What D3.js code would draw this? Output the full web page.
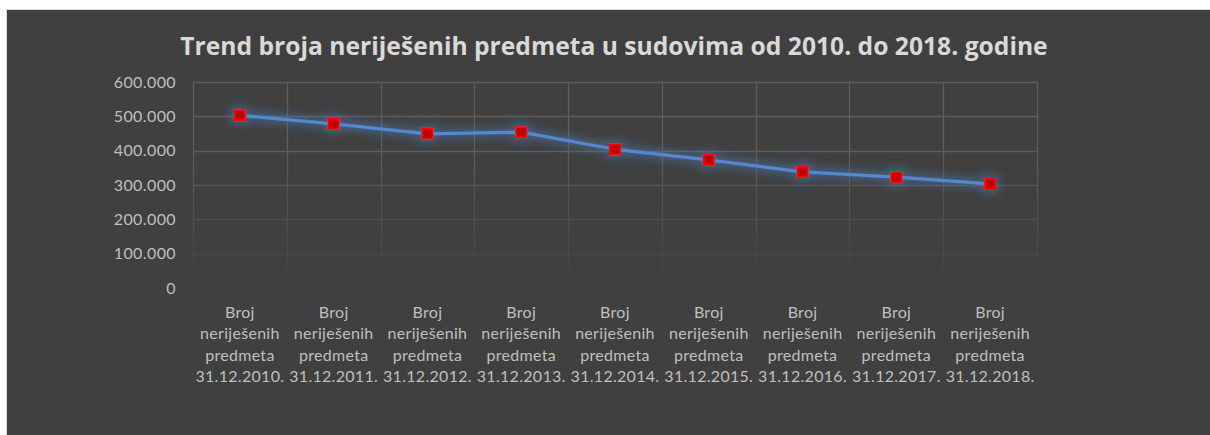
<!DOCTYPE html>
<html>
<head>
<meta charset="utf-8">
<script src="https://cdn.jsdelivr.net/npm/d3@7"></script>
<style>
  body { margin: 0; background: #ffffff; }
  svg { display: block; }
</style>
</head>
<body>
<svg id="chart" width="1210" height="435"></svg>
<script>
// Chart data
const categories = ['2010', '2011', '2012', '2013', '2014', '2015', '2016', '2017', '2018'];
const categoryLabels = categories.map(y => ['Broj', 'neriješenih', 'predmeta', `31.12.${y}.`]);
const values = [503000, 478000, 449000, 454000, 404000, 373000, 338000, 323000, 303000];
const yTicks = [0, 100000, 200000, 300000, 400000, 500000, 600000];
const titleText = 'Trend broja neriješenih predmeta u sudovima od 2010. do 2018. godine';

const W = 1210, H = 435;
const margin = { top: 82, left: 193, right: 173, bottom: 147 };
const plotW = W - margin.left - margin.right;
const plotH = H - margin.top - margin.bottom;

const svg = d3.select('#chart');
const defs = svg.append('defs');

// Blue glow around line and markers
const glow = defs.append('filter')
  .attr('id', 'glow')
  .attr('x', '-20%').attr('y', '-50%')
  .attr('width', '140%').attr('height', '200%');
glow.append('feMorphology')
  .attr('in', 'SourceAlpha').attr('operator', 'dilate').attr('radius', 2.5)
  .attr('result', 'thick');
glow.append('feGaussianBlur')
  .attr('in', 'thick').attr('stdDeviation', 4.5).attr('result', 'blur');
glow.append('feFlood').attr('flood-color', '#4a7ebb').attr('flood-opacity', 0.5);
glow.append('feComposite').attr('in2', 'blur').attr('operator', 'in').attr('result', 'glowColor');
const merge = glow.append('feMerge');
merge.append('feMergeNode').attr('in', 'glowColor');
merge.append('feMergeNode').attr('in', 'SourceGraphic');

// Gridlines fade out towards the bottom
const fade = defs.append('linearGradient')
  .attr('id', 'fadeGrad')
  .attr('gradientUnits', 'userSpaceOnUse')
  .attr('x1', 0).attr('y1', margin.top).attr('x2', 0).attr('y2', margin.top + plotH + 4);
fade.append('stop').attr('offset', '0.3').attr('stop-color', '#fff').attr('stop-opacity', 1);
fade.append('stop').attr('offset', '1').attr('stop-color', '#fff').attr('stop-opacity', 0);
defs.append('mask')
  .attr('id', 'fadeMask')
  .attr('maskUnits', 'userSpaceOnUse')
  .attr('x', 0).attr('y', 0).attr('width', W).attr('height', H)
  .append('rect')
  .attr('x', 0).attr('y', 0).attr('width', W).attr('height', H)
  .attr('fill', 'url(#fadeGrad)');

// Chart background + outer border
svg.append('rect')
  .attr('x', 6.5).attr('y', 9.5)
  .attr('width', W).attr('height', H)
  .attr('fill', '#404040')
  .attr('stroke', '#d9d9d9')
  .attr('stroke-width', 1);

const x = d3.scaleBand()
  .domain(categories)
  .range([margin.left, margin.left + plotW]);

const y = d3.scaleLinear()
  .domain([0, 600000])
  .range([margin.top + plotH, margin.top]);

const fmt = v => d3.format(',')(v).replace(/,/g, '.');

// Grid
const grid = svg.append('g').attr('mask', 'url(#fadeMask)');
grid.selectAll('line.h')
  .data(yTicks.filter(d => d > 0))
  .join('line')
  .attr('class', 'h')
  .attr('x1', margin.left).attr('x2', margin.left + plotW)
  .attr('y1', d => Math.round(y(d)) + 0.5).attr('y2', d => Math.round(y(d)) + 0.5)
  .attr('stroke', '#5e5e5e').attr('stroke-width', 1.3);

const vLines = categories.map(c => x(c)).concat([margin.left + plotW]);
grid.selectAll('line.v')
  .data(vLines)
  .join('line')
  .attr('class', 'v')
  .attr('x1', d => Math.round(d) + 0.5).attr('x2', d => Math.round(d) + 0.5)
  .attr('y1', margin.top).attr('y2', margin.top + plotH + 20)
  .attr('stroke', '#5e5e5e').attr('stroke-width', 1.3);

// Y axis labels
const yAxis = svg.append('g')
  .attr('transform', `translate(${margin.left - 17},0)`)
  .call(d3.axisLeft(y).tickValues(yTicks).tickFormat(fmt).tickSize(0).tickPadding(0));
yAxis.select('.domain').remove();
yAxis.selectAll('text')
  .attr('fill', '#bfbfbf')
  .style('font-family', 'Lato, "Open Sans", sans-serif')
  .style('font-size', '16px')
  .style('letter-spacing', '0.4px');

// X category labels
const xLabels = svg.append('g')
  .selectAll('text')
  .data(categories)
  .join('text')
  .attr('x', d => x(d) + x.bandwidth() / 2)
  .attr('y', margin.top + plotH + 30)
  .attr('text-anchor', 'middle')
  .attr('fill', '#bfbfbf')
  .style('font-family', 'Lato, "Open Sans", sans-serif')
  .style('font-size', '16px')
  .style('letter-spacing', '0.3px');
xLabels.selectAll('tspan')
  .data((d, i) => categoryLabels[i])
  .join('tspan')
  .attr('x', function () { return d3.select(this.parentNode).attr('x'); })
  .attr('dy', (d, i) => i === 0 ? 0 : 21.3)
  .text(d => d);

// Line + markers
const line = d3.line()
  .x((d, i) => x(categories[i]) + x.bandwidth() / 2)
  .y(d => y(d));

const series = svg.append('g').attr('filter', 'url(#glow)');
series.append('path')
  .datum(values)
  .attr('d', line)
  .attr('fill', 'none')
  .attr('stroke', '#5288d0')
  .attr('stroke-width', 3.2)
  .attr('stroke-linejoin', 'round');

series.selectAll('rect.marker')
  .data(values)
  .join('rect')
  .attr('class', 'marker')
  .attr('x', (d, i) => x(categories[i]) + x.bandwidth() / 2 - 5)
  .attr('y', d => y(d) - 5)
  .attr('width', 10).attr('height', 10)
  .attr('fill', '#c00000')
  .attr('stroke', '#ff0000')
  .attr('stroke-width', 2);

// Title, fitted to the reference width
const title = svg.append('text')
  .attr('x', 614)
  .attr('y', 55)
  .attr('text-anchor', 'middle')
  .attr('fill', '#d9d9d9')
  .style('font-family', '"Open Sans", sans-serif')
  .style('font-weight', 'bold')
  .style('font-size', '22px')
  .text(titleText);
const tw = title.node().getComputedTextLength();
title.style('font-size', `${22 * 868 / tw}px`);
</script>
</body>
</html>
